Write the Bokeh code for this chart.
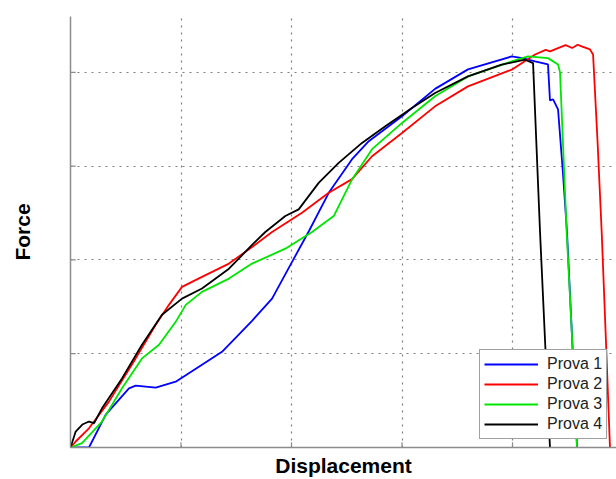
from bokeh.plotting import figure
from bokeh.models import Range1d, FixedTicker, Legend, LegendItem
from bokeh.embed import file_html
from bokeh.resources import INLINE

# Prova 1 (blue)
p1_x = [0.0, 0.167, 0.319, 0.529, 0.590, 0.771, 0.952, 1.190, 1.371, 1.643, 1.824, 2.005,
        2.158, 2.337, 2.548, 2.699, 3.000, 3.299, 3.597, 3.993, 4.100, 4.204, 4.321, 4.339,
        4.367, 4.412, 4.455, 4.493, 4.540, 4.584]
p1_y = [0.0, 0.0, 0.351, 0.631, 0.660, 0.638, 0.702, 0.883, 1.021, 1.351, 1.588, 1.979,
        2.309, 2.716, 3.074, 3.266, 3.532, 3.824, 4.032, 4.170, 4.150, 4.117, 4.085, 3.702,
        3.713, 3.606, 2.950, 2.298, 1.150, 0.0]

# Prova 2 (red)
p2_x = [0.0, 0.047, 0.167, 0.348, 0.590, 0.771, 0.891, 1.009, 1.190, 1.434, 1.643, 1.824,
        2.095, 2.337, 2.548, 2.729, 3.000, 3.299, 3.597, 3.993, 4.204, 4.300, 4.340, 4.412,
        4.480, 4.540, 4.590, 4.626, 4.701, 4.729, 4.770, 4.807, 4.845, 4.882]
p2_y = [0.0, 0.064, 0.205, 0.489, 0.950, 1.309, 1.521, 1.713, 1.819, 1.961, 2.138, 2.298,
        2.503, 2.716, 2.862, 3.106, 3.354, 3.638, 3.851, 4.029, 4.191, 4.240, 4.225, 4.259,
        4.290, 4.260, 4.295, 4.277, 4.245, 4.191, 3.250, 2.298, 1.150, 0.0]

# Prova 3 (green)
p3_x = [0.0, 0.104, 0.285, 0.466, 0.647, 0.801, 0.952, 1.043, 1.190, 1.434, 1.643, 1.944,
        2.186, 2.382, 2.548, 2.729, 3.000, 3.299, 3.597, 3.993, 4.140, 4.321, 4.412, 4.430,
        4.490, 4.540, 4.584]
p3_y = [0.0, 0.046, 0.277, 0.631, 0.950, 1.096, 1.340, 1.521, 1.660, 1.801, 1.961, 2.120,
        2.298, 2.468, 2.859, 3.181, 3.461, 3.745, 3.957, 4.117, 4.170, 4.152, 4.085, 4.000,
        2.298, 1.150, 0.0]

# Prova 4 (black)
p4_x = [0.0, 0.047, 0.107, 0.167, 0.213, 0.285, 0.466, 0.647, 0.828, 1.009, 1.190, 1.434,
        1.643, 1.763, 1.944, 2.065, 2.246, 2.427, 2.638, 2.849, 3.090, 3.299, 3.597, 3.902,
        4.113, 4.186, 4.249, 4.339]
p4_y = [0.0, 0.170, 0.245, 0.277, 0.259, 0.418, 0.737, 1.096, 1.415, 1.588, 1.695, 1.907,
        2.160, 2.298, 2.468, 2.539, 2.822, 3.035, 3.248, 3.426, 3.620, 3.780, 3.957, 4.082,
        4.135, 4.099, 2.298, 0.0]

series = [("Prova 1", p1_x, p1_y, "#0000ff"),
          ("Prova 2", p2_x, p2_y, "#ff0000"),
          ("Prova 3", p3_x, p3_y, "#00e600"),
          ("Prova 4", p4_x, p4_y, "#000000")]

grid_ticks = [0, 1, 2, 3, 4]

p = figure(width=616, height=479, output_backend="svg", toolbar_location=None,
           x_range=Range1d(0, 4.941), y_range=Range1d(0, 4.596),
           min_border_left=70, min_border_right=0, min_border_top=16, min_border_bottom=31)
p.outline_line_color = None
p.background_fill_color = "white"
p.border_fill_color = "white"

for ax in (p.xaxis, p.yaxis):
    ax.ticker = FixedTicker(ticks=[])
    ax.minor_tick_line_color = None
    ax.major_tick_in = 0
    ax.major_tick_out = 0
    ax.major_label_standoff = 0
    ax.axis_line_color = "#8c8c8c"
    ax.axis_line_width = 1.5
    ax.axis_label_text_font = "Liberation Sans"
    ax.axis_label_text_font_style = "bold"
    ax.axis_label_text_font_size = "21px"
    ax.axis_label_text_color = "black"

p.xaxis.axis_label = "Displacement"
p.xaxis.axis_label_standoff = 6
p.yaxis.axis_label = "Force"
p.yaxis.axis_label_standoff = 37

for g in (p.xgrid, p.ygrid):
    g.ticker = FixedTicker(ticks=grid_ticks)
    g.grid_line_color = "#7f7f7f"
    g.grid_line_dash = "2 5"
    g.grid_line_width = 1.2

# inward tick marks at the grid positions
p.segment(x0=grid_ticks, y0=[0] * len(grid_ticks), x1=grid_ticks, y1=[0.055] * len(grid_ticks),
          line_color="#8c8c8c", line_width=1.2)
p.segment(x0=[0] * len(grid_ticks), y0=grid_ticks, x1=[0.047] * len(grid_ticks), y1=grid_ticks,
          line_color="#8c8c8c", line_width=1.2)

items = []
for name, xs, ys, col in series:
    r = p.line(xs, ys, line_color=col, line_width=1.8)
    items.append(LegendItem(label=name, renderers=[r]))

legend = Legend(items=items, location=(409, 8))
legend.label_text_font = "Liberation Sans"
legend.label_text_font_size = "16px"
legend.label_text_color = "#222222"
legend.glyph_width = 54
legend.glyph_height = 20
legend.label_height = 20
legend.label_standoff = 9
legend.spacing = 0
legend.padding = 4
legend.margin = 0
legend.border_line_color = "#444444"
legend.border_line_width = 1
legend.background_fill_color = "white"
legend.background_fill_alpha = 1.0
p.add_layout(legend, "center")

open("out.html", "w").write(file_html(p, INLINE))
